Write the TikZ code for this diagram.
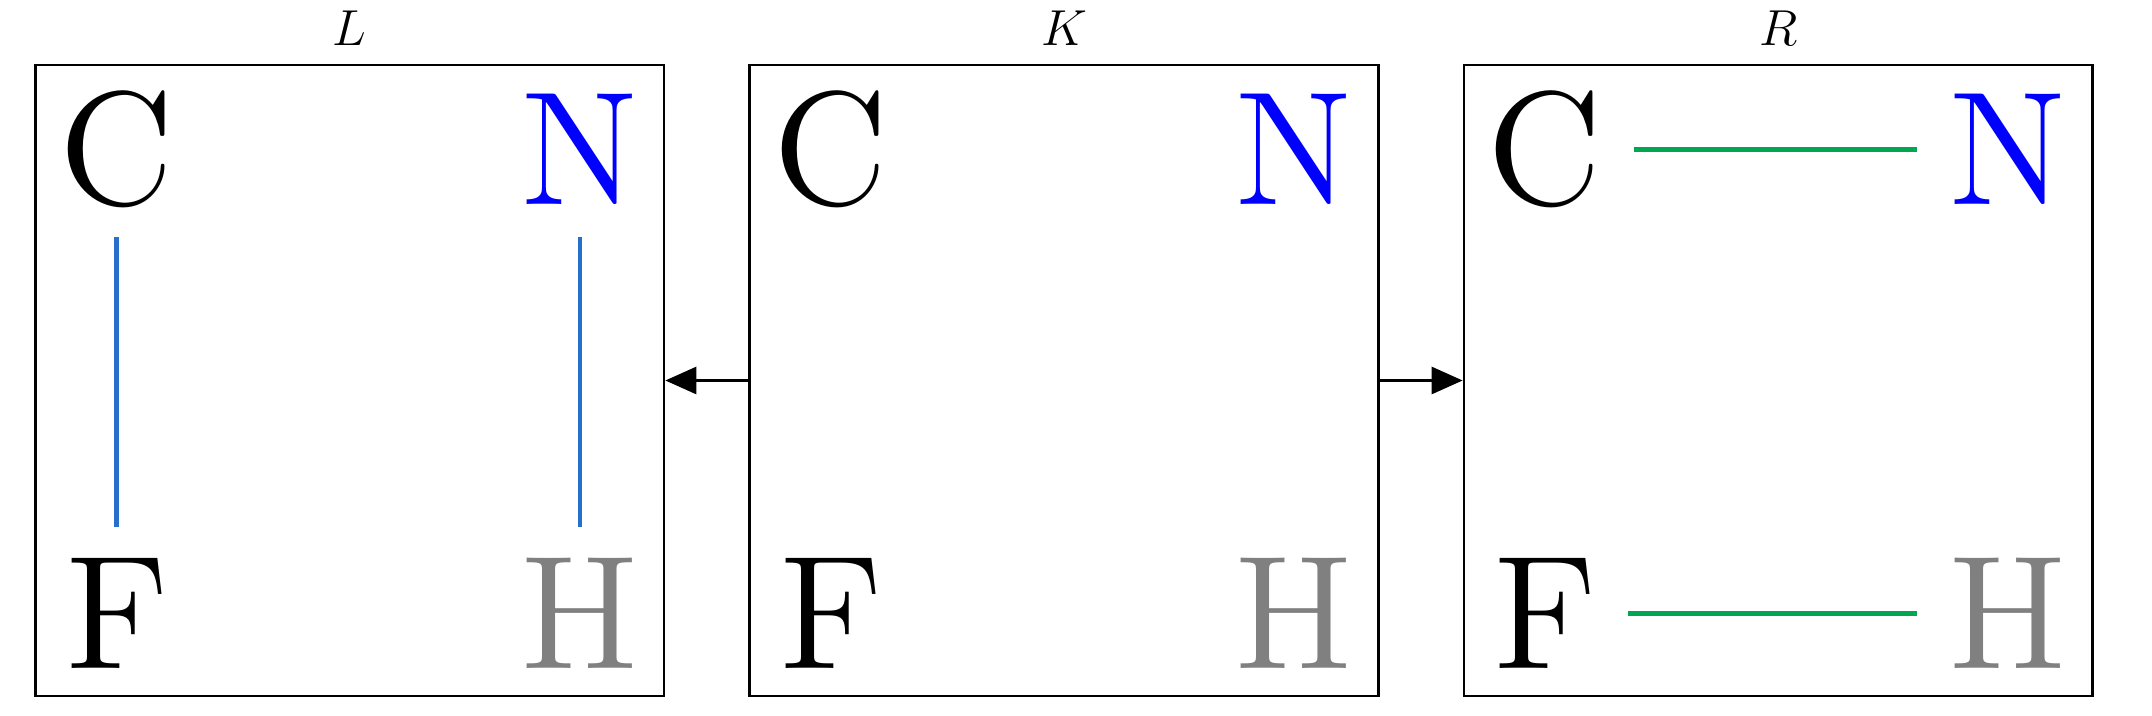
\documentclass[tikz,border=0pt]{standalone}
\usepackage{xcolor}
\usepackage{tikz}
\usetikzlibrary{arrows.meta,positioning}
\definecolor{bondblue}{RGB}{38,112,204}
\definecolor{bondgreen}{RGB}{0,166,81}
\definecolor{atomgray}{RGB}{128,128,128}
\font\atomfont=cmr12 at 46pt
\tikzset{
  graphbox/.style = {
    rectangle,
    draw,
    line width=0.8pt,
    minimum width=62.85mm,
    minimum height=63.1mm
  },
  graphtitle/.style = {
    anchor=base,
    inner sep=0pt,
    font=\fontsize{13.7}{16}\selectfont
  },
  atomnode/.style = {
    anchor=base,
    inner sep=3.1mm,
    font=\atomfont
  },
  oldbond/.style = {
    draw=bondblue,
    line width=1.4pt
  },
  newbond/.style = {
    draw=bondgreen,
    line width=1.4pt
  },
  spanarrow/.style = {
    -{Triangle[length=3.1mm,width=2.7mm]},
    line width=0.8pt
  }
}
\begin{document}
\begin{tikzpicture}
    \useasboundingbox (0,0) rectangle (21.52,7.16);
    % the three graphs
    \node[graphbox] (Kbox) at (10.64,3.355) {};
    \node[graphbox, left=8.3mm of Kbox] (Lbox) {};
    \node[graphbox, right=8.3mm of Kbox] (Rbox) {};
    \node[graphtitle] (Ltitle) at ([yshift=1.8mm]Lbox.north) {$L$};
    \node[graphtitle] (Ktitle) at ([yshift=1.8mm]Kbox.north) {$K$};
    \node[graphtitle] (Rtitle) at ([yshift=1.8mm]Rbox.north) {$R$};
    % atoms
    \node[atomnode] (LC) at (1.167,5.11) {C};
    \node[atomnode, text=blue] (LN) at (5.80,5.11) {N};
    \node[atomnode] (LF) at (1.167,0.47) {F};
    \node[atomnode, text=atomgray] (LH) at (5.80,0.47) {H};
    \node[atomnode] (KC) at (8.307,5.11) {C};
    \node[atomnode, text=blue] (KN) at (12.94,5.11) {N};
    \node[atomnode] (KF) at (8.307,0.47) {F};
    \node[atomnode, text=atomgray] (KH) at (12.94,0.47) {H};
    \node[atomnode] (RC) at (15.447,5.11) {C};
    \node[atomnode, text=blue] (RN) at (20.08,5.11) {N};
    \node[atomnode] (RF) at (15.447,0.47) {F};
    \node[atomnode, text=atomgray] (RH) at (20.08,0.47) {H};
    % bonds
    \draw[oldbond] (LC) -- (LF);
    \draw[oldbond] (LN) -- (LH);
    \draw[newbond] (RC) -- (RN);
    \draw[newbond] (RF) -- (RH);
    % span
    \draw[spanarrow] (Kbox.west) -- (Lbox.east);
    \draw[spanarrow] (Kbox.east) -- (Rbox.west);
  \end{tikzpicture}
\end{document}
